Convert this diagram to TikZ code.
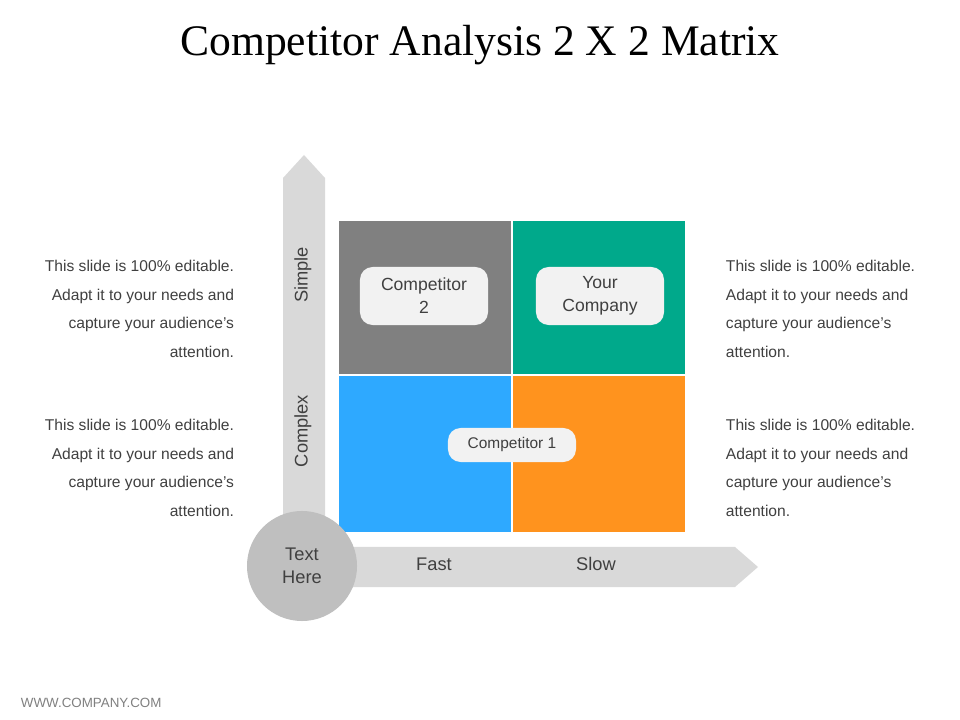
\documentclass[tikz,border=0pt]{standalone}
\usepackage{fontspec}
\setsansfont{Liberation Sans}
\setmainfont{Liberation Serif}
\usepackage{tikz}
\usetikzlibrary{positioning,calc}
\definecolor{axisgray}{HTML}{D9D9D9}
\definecolor{circgray}{HTML}{BFBFBF}
\definecolor{qgray}{HTML}{808080}
\definecolor{qgreen}{HTML}{00A98B}
\definecolor{qblue}{HTML}{2EA9FF}
\definecolor{qorange}{HTML}{FF931E}
\definecolor{txtgray}{HTML}{404040}
\definecolor{tagfill}{HTML}{F2F2F2}
\tikzset{
  quad/.style={draw=white, line width=0.8pt},
  tag/.style={fill=tagfill, rounded corners=9pt, minimum width=3.2cm, align=center,
    font=\sffamily\fontsize{12.5}{16.5}\selectfont, text=txtgray},
  sidetext/.style={font=\sffamily\fontsize{11.1}{20.5}\selectfont, text=txtgray},
  axislabel/.style={font=\sffamily\fontsize{13}{16}\selectfont, text=txtgray}
}
\begin{document}
\begin{tikzpicture}[x=0.025cm, y=-0.025cm]
  \useasboundingbox (0,0) rectangle (960,720);
  % Title
  \node[font=\fontsize{31}{34}\selectfont] (title) at (480,45) {Competitor Analysis 2 X 2 Matrix};

  % Axes
  \fill[axisgray] (283,540) -- (283,178) -- (304,155) -- (325,178) -- (325,540) -- cycle;
  \fill[axisgray] (303,547) -- (735,547) -- (758,567) -- (735,587) -- (303,587) -- cycle;
  \node[axislabel, rotate=90] (simple) at (303,275) {Simple};
  \node[axislabel, rotate=90] (complex) at (303,431) {Complex};
  \node[axislabel] (fast) at (434,564) {Fast};
  \node[axislabel] (slow) at (596,564) {Slow};

  % Quadrants
  \fill[quad, fill=qgray] (338,220) rectangle (512,375);
  \fill[quad, fill=qgreen] (512,220) rectangle (686,375);
  \fill[quad, fill=qblue] (338,375) rectangle (512,533);
  \fill[quad, fill=qorange] (512,375) rectangle (686,533);
  \draw[white, line width=0.8pt] (512,220) -- (512,533) (338,375) -- (686,375);

  % Tags
  \node[tag, minimum height=1.45cm] (comp2) at (424,296) {Competitor\\2};
  \node[tag, minimum height=1.45cm] (yourco) at (600,296) {Your\\Company};
  \node[tag, minimum height=0.85cm, font=\sffamily\fontsize{11}{13}\selectfont] (comp1) at (512,445) {Competitor 1};

  % Corner circle
  \node[circle, fill=circgray, minimum size=2.75cm, align=center, axislabel] (corner) at (302,566) {Text\\Here};

  % Side texts
  \node[sidetext, align=right, anchor=north east] (lefttop) at (239,255) {This slide is 100\% editable.\\Adapt it to your needs and\\capture your audience's\\attention.};
  \node[sidetext, align=right, anchor=north east] (leftbot) at (239,414) {This slide is 100\% editable.\\Adapt it to your needs and\\capture your audience's\\attention.};
  \node[sidetext, align=left, anchor=north west] (righttop) at (721,255) {This slide is 100\% editable.\\Adapt it to your needs and\\capture your audience's\\attention.};
  \node[sidetext, align=left, anchor=north west] (rightbot) at (721,414) {This slide is 100\% editable.\\Adapt it to your needs and\\capture your audience's\\attention.};

  % Footer
  \node[font=\sffamily\fontsize{9.5}{11}\selectfont, text=gray, anchor=west] (footer) at (16,703) {WWW.COMPANY.COM};
\end{tikzpicture}
\end{document}
